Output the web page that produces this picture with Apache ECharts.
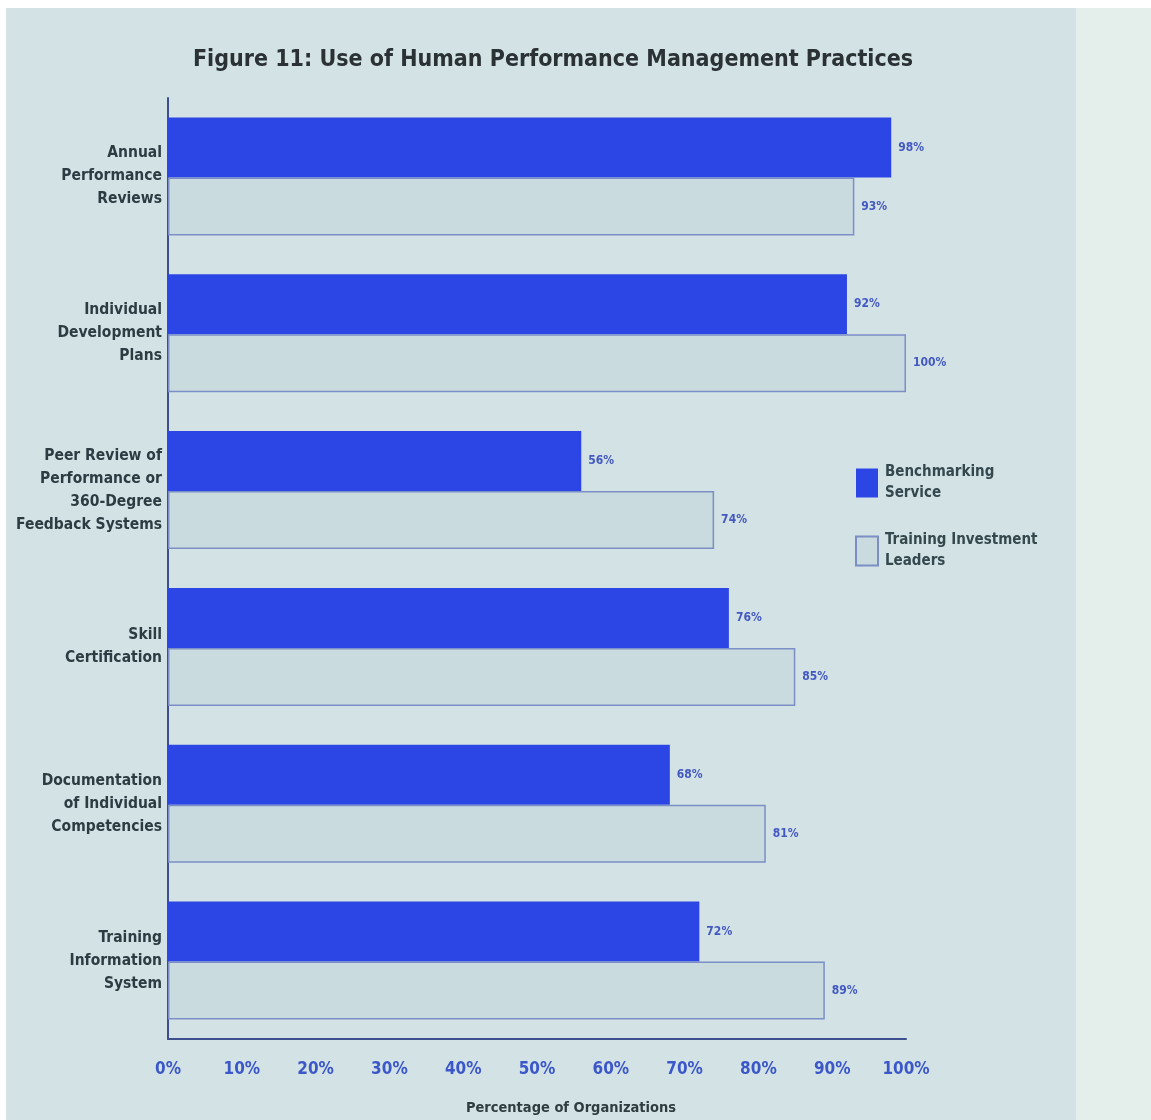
<!DOCTYPE html>
<html>
<head>
<meta charset="utf-8">
<script src="https://cdn.jsdelivr.net/npm/echarts@6/dist/echarts.min.js"></script>
<style>
  html, body { margin: 0; padding: 0; background: #ffffff; }
  #chart { width: 1151px; height: 1120px; }
</style>
</head>
<body>
<div id="chart"></div>
<script>
// Practices, top to bottom
const categories = [
  'Annual\nPerformance\nReviews',
  'Individual\nDevelopment\nPlans',
  'Peer Review of\nPerformance or\n360-Degree\nFeedback Systems',
  'Skill\nCertification',
  'Documentation\nof Individual\nCompetencies',
  'Training\nInformation\nSystem'
];
const seriesNames = ['Benchmarking\nService', 'Training Investment\nLeaders'];
const benchmarking = [98, 92, 56, 76, 68, 72];
const leaders = [93, 100, 74, 85, 81, 89];
const xTicks = [0, 10, 20, 30, 40, 50, 60, 70, 80, 90, 100];

// condensed face via the font shorthand's stretch keyword
const FONT = "'DejaVu Sans', sans-serif";
const BOLD = 'bold condensed';
const PANEL = '#d3e3e5';
const DARK_BLUE = '#2c46e6';
const LIGHT_FILL = '#c9dbdf';
const LIGHT_EDGE = '#7b8ec6';
const LABEL_BLUE = '#4358c2';
const TEXT_DARK = '#2c3c42';

const chart = echarts.init(document.getElementById('chart'), null, { renderer: 'canvas' });

chart.setOption({
  backgroundColor: '#ffffff',
  graphic: [
    { type: 'rect', z: -10, shape: { x: 6, y: 8, width: 1070, height: 1112 }, style: { fill: PANEL } },
    { type: 'rect', z: -10, shape: { x: 1076, y: 8, width: 75, height: 1112 }, style: { fill: '#e4eeea' } }
  ],
  title: {
    text: 'Figure 11: Use of Human Performance Management Practices',
    left: 548,
    top: 44,
    textAlign: 'center',
    textStyle: { fontFamily: FONT, fontSize: 23, fontWeight: BOLD, color: '#2a3236' }
  },
  legend: {
    orient: 'vertical',
    left: 850,
    top: 457,
    icon: 'rect',
    itemWidth: 22,
    itemHeight: 29,
    itemGap: 26,
    data: seriesNames,
    textStyle: { fontFamily: FONT, fontSize: 15, fontWeight: BOLD, color: '#34484e', lineHeight: 21, padding: [0, 0, 0, 2] }
  },
  grid: { left: 168, top: 98, width: 738, height: 941, outerBoundsMode: 'none', containLabel: false },
  xAxis: {
    type: 'value',
    min: 0,
    max: 100,
    interval: 10,
    axisLine: { show: true, lineStyle: { color: '#3e4f8e', width: 2 } },
    axisTick: { show: false },
    splitLine: { show: false },
    axisLabel: {
      margin: 22,
      fontFamily: FONT,
      fontSize: 17,
      fontWeight: BOLD,
      color: '#3b57c9',
      formatter: function (v) { return xTicks.indexOf(v) >= 0 ? v + '%' : ''; }
    },
    name: 'Percentage of Organizations',
    nameLocation: 'middle',
    nameGap: 62,
    nameTextStyle: { fontFamily: FONT, fontSize: 14.5, fontWeight: BOLD, color: '#2f3c40', padding: [0, 0, 0, 68] }
  },
  yAxis: {
    type: 'category',
    data: categories,
    inverse: true,
    axisLine: { show: true, lineStyle: { color: '#3e4f8e', width: 2 } },
    axisTick: { show: false },
    axisLabel: {
      margin: 6,
      fontFamily: FONT,
      fontSize: 15.5,
      lineHeight: 23,
      color: TEXT_DARK,
      fontWeight: BOLD
    }
  },
  series: [
    {
      name: seriesNames[0],
      type: 'bar',
      data: benchmarking,
      barWidth: 60,
      barGap: '0%',
      itemStyle: { color: DARK_BLUE },
      label: {
        show: true, position: 'right', distance: 7,
        formatter: '{c}%', fontFamily: FONT, fontSize: 12, fontWeight: BOLD, color: LABEL_BLUE
      }
    },
    {
      name: seriesNames[1],
      type: 'bar',
      data: leaders,
      barWidth: 58,
      itemStyle: { color: LIGHT_FILL, borderColor: LIGHT_EDGE, borderWidth: 1.5 },
      label: {
        show: true, position: 'right', distance: 7,
        formatter: '{c}%', fontFamily: FONT, fontSize: 12, fontWeight: BOLD, color: LABEL_BLUE
      }
    }
  ]
});
</script>
</body>
</html>
